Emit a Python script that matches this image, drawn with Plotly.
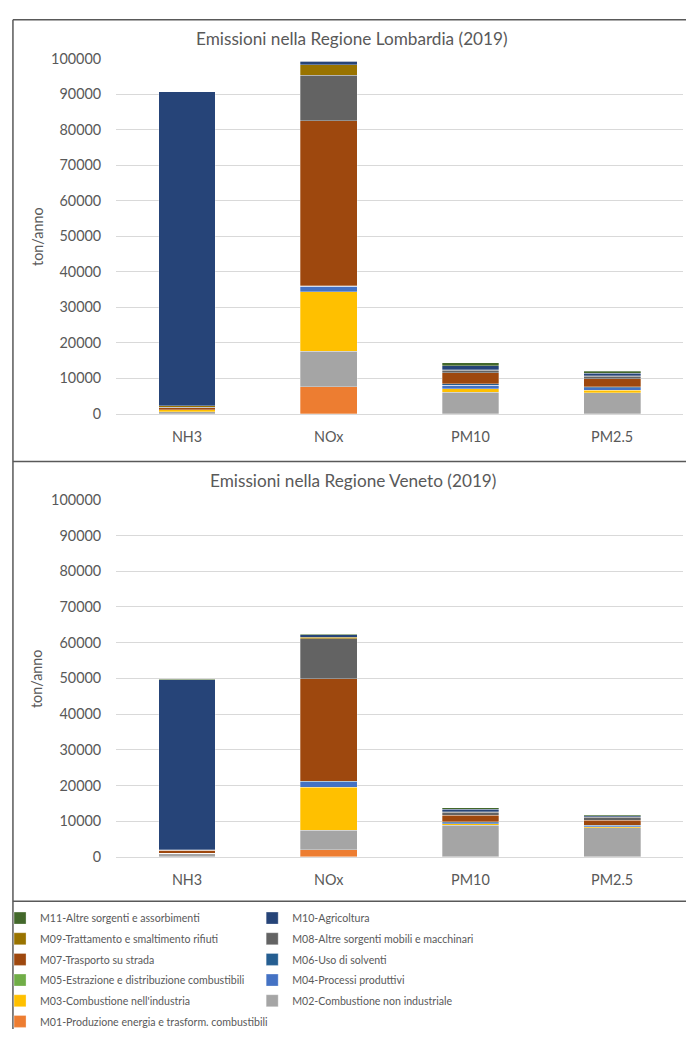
import plotly.graph_objects as go

W, H = 686, 1037

categories = ["NH3", "NOx", "PM10", "PM2.5"]

sectors = [
    "M01-Produzione energia e trasform. combustibili",
    "M02-Combustione non industriale",
    "M03-Combustione nell'industria",
    "M04-Processi produttivi",
    "M05-Estrazione e distribuzione combustibili",
    "M06-Uso di solventi",
    "M07-Trasporto su strada",
    "M08-Altre sorgenti mobili e macchinari",
    "M09-Trattamento e smaltimento rifiuti",
    "M10-Agricoltura",
    "M11-Altre sorgenti e assorbimenti",
]

colors = ["#ED7D31", "#A5A5A5", "#FFC000", "#4472C4", "#70AD47", "#255E91",
          "#9E480E", "#636363", "#997300", "#264478", "#43682B"]

# Lombardia values (ton/anno) per sector: [NH3, NOx, PM10, PM2.5]
lom_M01 = [20, 7700, 60, 55]
lom_M02 = [650, 10000, 6000, 5950]
lom_M03 = [450, 16700, 1000, 700]
lom_M04 = [40, 1500, 1000, 600]
lom_M05 = [0, 30, 20, 15]
lom_M06 = [0, 100, 450, 300]
lom_M07 = [650, 46500, 3100, 2300]
lom_M08 = [30, 12700, 650, 700]
lom_M09 = [450, 3000, 150, 150]
lom_M10 = [88300, 1000, 1100, 650]
lom_M11 = [100, 50, 900, 550]

# Veneto values (ton/anno)
ven_M01 = [10, 2000, 40, 35]
ven_M02 = [1000, 5500, 8800, 8150]
ven_M03 = [30, 12000, 370, 280]
ven_M04 = [20, 1550, 400, 250]
ven_M05 = [0, 20, 10, 10]
ven_M06 = [0, 60, 150, 120]
ven_M07 = [740, 28800, 1840, 1380]
ven_M08 = [20, 11200, 920, 920]
ven_M09 = [150, 370, 50, 50]
ven_M10 = [47700, 740, 740, 280]
ven_M11 = [100, 50, 370, 280]

lom = [lom_M01, lom_M02, lom_M03, lom_M04, lom_M05, lom_M06,
       lom_M07, lom_M08, lom_M09, lom_M10, lom_M11]
ven = [ven_M01, ven_M02, ven_M03, ven_M04, ven_M05, ven_M06,
       ven_M07, ven_M08, ven_M09, ven_M10, ven_M11]

titles = ["Emissioni nella Regione Lombardia (2019)", "Emissioni nella Regione Veneto (2019)"]
y_tick_vals = list(range(0, 100001, 10000))

FONT = "Lato"
TXT = "#595959"

fig = go.Figure()

for i, (name, col) in enumerate(zip(sectors, colors)):
    leg = "legend" if i % 2 == 0 else "legend2"
    fig.add_trace(go.Bar(
        x=categories, y=lom[i], name=name, marker_color=col,
        marker_line=dict(color="rgba(255,255,255,0.5)", width=0.6),
        width=0.4, xaxis="x", yaxis="y", legend=leg, legendgroup=name,
        legendrank=100 - i,
    ))
for i, (name, col) in enumerate(zip(sectors, colors)):
    fig.add_trace(go.Bar(
        x=categories, y=ven[i], name=name, marker_color=col,
        marker_line=dict(color="rgba(255,255,255,0.5)", width=0.6),
        width=0.4, xaxis="x2", yaxis="y2", showlegend=False, legendgroup=name,
    ))

def px_x(p):
    return p / W

def px_y(p):
    return 1 - p / H

xdom = [px_x(112), px_x(683)]
top_dom = [px_y(411.7), px_y(50.3)]
bot_dom = [px_y(862), px_y(499)]

axis_common_y = dict(
    range=[0, 100000], tickvals=y_tick_vals, tickformat="d",
    showgrid=True, gridcolor="#D9D9D9", gridwidth=1,
    zeroline=False, showline=False, ticks="",
    tickfont=dict(family=FONT, size=14.4, color=TXT),
    ticklabelstandoff=14, fixedrange=True,
)
axis_common_x = dict(
    showgrid=False, showline=True, linecolor="#D9D9D9", linewidth=1,
    ticks="", tickfont=dict(family=FONT, size=14.4, color=TXT),
    ticklabelstandoff=10, fixedrange=True,
)

legend_common = dict(
    xanchor="left", y=px_y(909.5), yanchor="top",
    traceorder="grouped", tracegroupgap=1.66,
    font=dict(family=FONT, size=10.6, color=TXT),
    bgcolor="rgba(0,0,0,0)",
)

fig.update_layout(
    width=W, height=H,
    margin=dict(l=0, r=0, t=0, b=0),
    paper_bgcolor="white", plot_bgcolor="white",
    barmode="stack",
    font=dict(family=FONT, color=TXT),
    xaxis=dict(domain=xdom, anchor="y", **axis_common_x),
    yaxis=dict(domain=top_dom, anchor="x", **axis_common_y),
    xaxis2=dict(domain=xdom, anchor="y2", **axis_common_x),
    yaxis2=dict(domain=bot_dom, anchor="x2", **axis_common_y),
    legend=dict(x=px_x(-5), **legend_common),
    legend2=dict(x=px_x(249), **legend_common),
    showlegend=True,
)

# Titles and axis titles
fig.add_annotation(text=titles[0], x=px_x(350), y=px_y(30), xref="paper", yref="paper",
                   xanchor="center", yanchor="middle",
                   showarrow=False, font=dict(family=FONT, size=17.2, color=TXT))
fig.add_annotation(text=titles[1], x=px_x(351), y=px_y(479.5), xref="paper", yref="paper",
                   xanchor="center", yanchor="middle",
                   showarrow=False, font=dict(family=FONT, size=17.2, color=TXT))
for yc in [(50.3 + 411.7) / 2, (499 + 862) / 2]:
    fig.add_annotation(text="ton/anno", x=px_x(32), y=px_y(yc), xref="paper", yref="paper",
                       xanchor="center", yanchor="middle",
                       showarrow=False, textangle=-90,
                       font=dict(family=FONT, size=14.4, color=TXT))

# Panel borders
border = "#595959"
shapes = [
    dict(type="line", xref="paper", yref="paper", x0=px_x(8), x1=px_x(8), y0=0, y1=px_y(11)),
    dict(type="line", xref="paper", yref="paper", x0=px_x(8), x1=1, y0=px_y(11), y1=px_y(11)),
    dict(type="line", xref="paper", yref="paper", x0=px_x(8), x1=1, y0=px_y(460), y1=px_y(460)),
    dict(type="line", xref="paper", yref="paper", x0=px_x(8), x1=1, y0=px_y(907), y1=px_y(907)),
]
for s in shapes:
    s["line"] = dict(color=border, width=1.5)
fig.update_layout(shapes=shapes)

fig.write_html(
    "out.html",
    config={"displayModeBar": False},
    post_script="document.body.style.margin='0';document.body.style.overflow='hidden';",
)
